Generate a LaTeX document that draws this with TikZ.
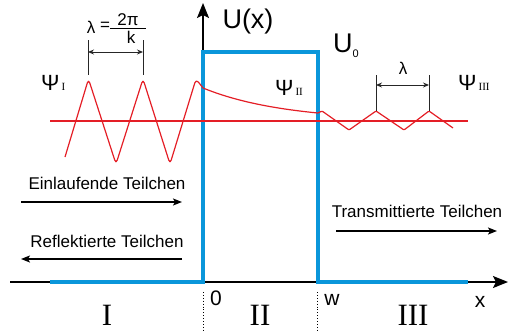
\documentclass[tikz,border=0pt]{standalone}
\usepackage{fontspec}
\setmainfont{Liberation Sans}
\newfontfamily\romanfont{Liberation Serif}
\usetikzlibrary{arrows.meta}
\definecolor{potblue}{RGB}{10,150,218}
\definecolor{wavered}{RGB}{228,30,38}
\begin{document}
\begin{tikzpicture}[x=1pt,y=-1pt,
  axis/.style={line width=1.5pt,-{Stealth[length=15pt,width=12pt,inset=3pt]}},
  pot/.style={potblue,line width=4pt,line join=miter},
  wave/.style={wavered,line width=1.2pt,line join=round},
  baseline line/.style={draw=wavered,line width=1.15pt},
  flow/.style={line width=1.3pt,-{Stealth[length=9pt,width=7pt,inset=2pt]}},
  dimline/.style={line width=0.9pt,black!85},
  dimarrow/.style={line width=0.9pt,black!85,{Stealth[length=6pt,width=5pt]}-{Stealth[length=6pt,width=5pt]}},
  lbl/.style={font=\fontsize{17}{18}\selectfont,inner sep=0pt,anchor=base},
  axlbl/.style={font=\fontsize{21}{22}\selectfont,inner sep=0pt,anchor=base},
  big/.style={font=\fontsize{27}{28}\selectfont,inner sep=0pt,anchor=base},
  psilbl/.style={font=\fontsize{22}{23}\selectfont,inner sep=0pt,anchor=base west},
  region/.style={font=\romanfont\fontsize{31}{33}\selectfont,inner sep=0pt,anchor=base},
  sep/.style={line width=0.9pt,dotted}
]
\useasboundingbox (0,0) rectangle (510,332);

% axes
\coordinate (xs) at (10,282);
\coordinate (xe) at (508,282);
\coordinate (ys) at (203,282);
\coordinate (ye) at (203,3);
\draw[axis] (xs) -- (xe);
\draw[axis] (ys) -- (ye);

% potential
\coordinate (p1) at (50,282);
\coordinate (p2) at (203,282);
\coordinate (p3) at (203,52);
\coordinate (p4) at (318,52);
\coordinate (p5) at (318,282);
\coordinate (p6) at (468,282);
\draw[pot] (p1) -- (p2) -- (p3) -- (p4) -- (p5) -- (p6);

% reference line
\coordinate (r1) at (50,121);
\coordinate (r2) at (468,121);
\draw[baseline line] (r1) -- (r2);

% waves
\draw[wave,rounded corners=4pt] (65,157) -- (88.5,79) -- (116,164) -- (143,79) -- (170,164) -- (196,79) -- (203,88);
\draw[wave] plot[domain=203:318,samples=50] (\x,{121-33*exp(-(\x-203)/81)});
\draw[wave,rounded corners=1pt] (318,113) -- (322,111) -- (349,130) -- (376,111) -- (404,130) -- (429,111) -- (453,128);

% wavelength I
\coordinate (a1) at (88,40);
\coordinate (a1b) at (88,75);
\coordinate (a2) at (143,40);
\coordinate (a2b) at (143,75);
\coordinate (a1m) at (88,52);
\coordinate (a2m) at (143,52);
\draw[dimline] (a1) -- (a1b);
\draw[dimline] (a2) -- (a2b);
\draw[dimarrow] (a1m) -- (a2m);
\node[lbl] (lam1) at (91,33) {λ};
\node[lbl] (eq) at (105,30) {=};
\node[lbl] (num) at (128,25) {2π};
\node[lbl] (den) at (131,43) {k};
\coordinate (f1) at (110,28);
\coordinate (f2) at (146,28);
\draw[line width=1pt] (f1) -- (f2);

% wavelength III
\coordinate (b1) at (376,75);
\coordinate (b1b) at (376,111);
\coordinate (b2) at (429,75);
\coordinate (b2b) at (429,111);
\coordinate (b1m) at (376,85);
\coordinate (b2m) at (429,85);
\draw[dimline] (b1) -- (b1b);
\draw[dimline] (b2) -- (b2b);
\draw[dimarrow] (b1m) -- (b2m);
\node[lbl] (lam3) at (403,74) {λ};

% labels
\node[big] (ux) at (248,28) {U(x)};
\node[big,anchor=base west] (u0) at (333,52) {U\raisebox{-5pt}{\fontsize{11}{11}\selectfont 0}};
\node[psilbl] (psi1) at (41,90) {Ψ\kern2pt{\romanfont\fontsize{11}{11}\selectfont I}};
\node[psilbl] (psi2) at (275,95) {Ψ\kern2pt{\romanfont\fontsize{11}{11}\selectfont II}};
\node[psilbl] (psi3) at (458,90) {Ψ\kern2pt{\romanfont\fontsize{11}{11}\selectfont III}};

% particle flows
\node[lbl] (ein) at (107,189) {Einlaufende Teilchen};
\coordinate (e1) at (21,202);
\coordinate (e2) at (182,202);
\draw[flow] (e1) -- (e2);
\node[lbl] (ref) at (107,247) {Reflektierte Teilchen};
\coordinate (f3) at (182,259);
\coordinate (f4) at (21,259);
\draw[flow] (f3) -- (f4);
\node[lbl] (tra) at (417,217) {Transmittierte Teilchen};
\coordinate (t1) at (336,231);
\coordinate (t2) at (497,231);
\draw[flow] (t1) -- (t2);

% axis labels
\node[axlbl] (zero) at (216,305) {0};
\node[axlbl] (w) at (332,305) {w};
\node[axlbl] (x) at (480,307) {x};

% separators
\coordinate (s1) at (203,292);
\coordinate (s1b) at (203,332);
\coordinate (s2) at (317,292);
\coordinate (s2b) at (317,332);
\draw[sep] (s1) -- (s1b);
\draw[sep] (s2) -- (s2b);

% regions
\node[region] (rI) at (107,325) {I};
\node[region] (rII) at (260,325) {II};
\node[region] (rIII) at (413,325) {III};
\end{tikzpicture}
\end{document}
